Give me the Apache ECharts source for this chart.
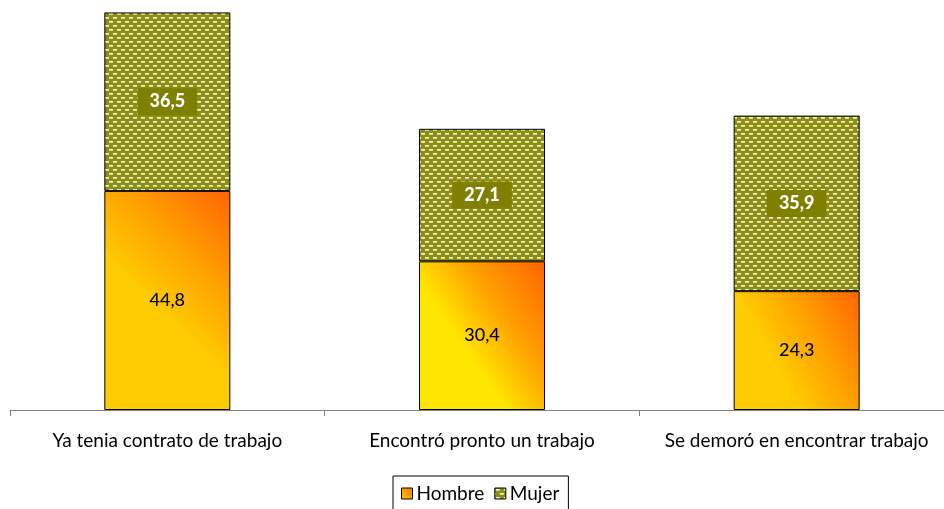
<!DOCTYPE html>
<html><head><meta charset="utf-8">
<script src="https://cdn.jsdelivr.net/npm/echarts@6/dist/echarts.min.js"></script>
<style>html,body{margin:0;padding:0;background:#fff;overflow:hidden}#c{width:954px;height:509px}</style>
</head><body><div id="c"></div>
<script>
const categories = ['Ya tenia contrato de trabajo', 'Encontró pronto un trabajo', 'Se demoró en encontrar trabajo'];
const hombre = [44.8, 30.4, 24.3];
const mujer = [36.5, 27.1, 35.9];
const hombreBase = ['#FFCC00', '#FFE600', '#FFCC00'];

function makePattern() {
  const cv = document.createElement('canvas');
  cv.width = 8; cv.height = 8;
  const g = cv.getContext('2d');
  g.fillStyle = '#8E8E10'; g.fillRect(0, 0, 8, 8);
  g.fillStyle = '#F2F2DC';
  g.fillRect(1, 1, 4, 1);
  g.fillRect(5, 5, 3, 1); g.fillRect(0, 5, 1, 1);
  g.fillStyle = '#D4D4A0';
  g.fillRect(1, 2, 4, 1);
  g.fillRect(5, 6, 3, 1); g.fillRect(0, 6, 1, 1);
  return cv;
}
const pattern = { image: makePattern(), repeat: 'repeat' };

function grad(base) {
  return new echarts.graphic.LinearGradient(0.05, 0.55, 1, 0, [
    { offset: 0, color: base },
    { offset: 0.2, color: base },
    { offset: 0.55, color: '#FFA200' },
    { offset: 1, color: '#FF6400' }
  ]);
}

const chart = echarts.init(document.getElementById('c'), null, { renderer: 'canvas' });
chart.setOption({
  animation: false,
  backgroundColor: '#ffffff',
  grid: { left: 10, right: 0, top: 9, bottom: 99, containLabel: false },
  legend: {
    bottom: -2, left: 393,
    data: [
      { name: 'Hombre', itemStyle: { color: new echarts.graphic.LinearGradient(0, 1, 1, 0, [{ offset: 0, color: '#FFCC00' }, { offset: 1, color: '#FF7000' }]), borderColor: '#000', borderWidth: 1 } },
      { name: 'Mujer', itemStyle: { color: pattern, borderColor: '#000', borderWidth: 1 } }
    ],
    itemWidth: 11, itemHeight: 11, itemGap: 10,
    borderColor: '#000', borderWidth: 1, padding: [8, 9, 8, 8],
    textStyle: { fontFamily: 'Lato', fontSize: 19, color: '#000', padding: [0, 0, 0, -1] },
    icon: 'rect'
  },
  xAxis: {
    type: 'category', data: categories,
    axisLine: { lineStyle: { color: '#808080', width: 1 } },
    axisTick: { show: true, length: 6, lineStyle: { color: '#808080' } },
    axisLabel: { color: '#000', fontFamily: 'Lato', fontSize: 19, margin: 21, interval: 0 }
  },
  yAxis: { type: 'value', min: 0, max: 82, show: false, splitLine: { show: false } },
  series: [
    {
      name: 'Hombre', type: 'bar', stack: 'a', barWidth: 126,
      data: hombre.map((v, i) => ({ value: v, itemStyle: { color: grad(hombreBase[i]) } })),
      itemStyle: { borderColor: '#000', borderWidth: 1 },
      label: {
        show: true, position: 'inside', color: '#000', fontFamily: 'Lato', fontWeight: 500, fontSize: 18,
        formatter: p => String(p.value).replace('.', ',')
      }
    },
    {
      name: 'Mujer', type: 'bar', stack: 'a', barWidth: 126,
      data: mujer,
      itemStyle: { color: pattern, borderColor: '#000', borderWidth: 1 },
      label: {
        show: true, position: 'inside', color: '#fff', fontFamily: 'Lato', fontWeight: 900, fontSize: 18,
        backgroundColor: '#808000', padding: [5, 12, 4, 12],
        formatter: p => String(p.value).replace('.', ',')
      }
    }
  ]
});
</script></body></html>
